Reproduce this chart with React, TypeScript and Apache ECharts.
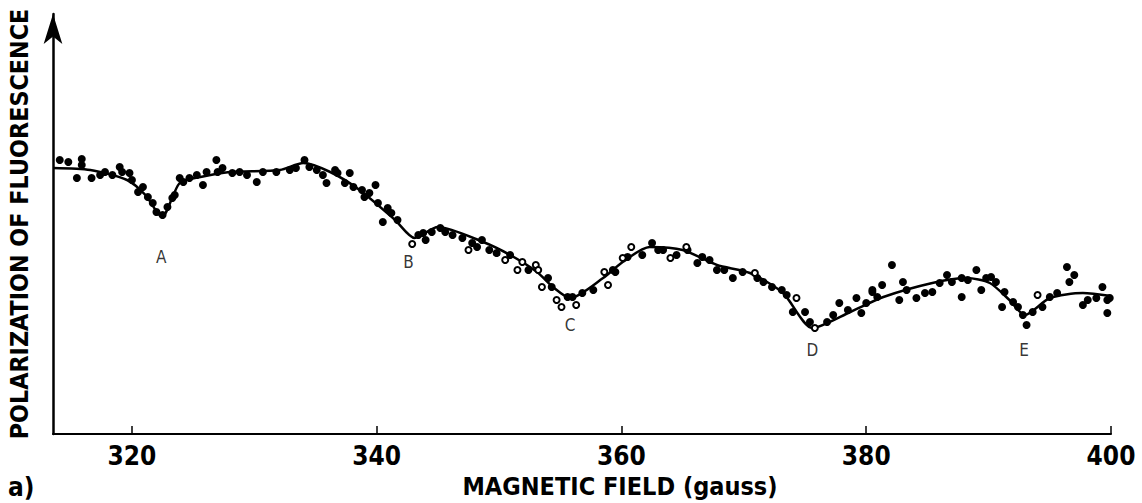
import React, { useEffect, useRef } from "react";
import * as echarts from "echarts";

// Magnetic field (gauss) and polarization (arbitrary units) along the smooth fitted curve
const curveField = [313.55, 316.6, 319.6, 321.1, 322.45, 323.9, 325.6, 328.0, 332.1, 334.0, 336.2, 338.6, 341.5, 343.1, 345.0, 348.7, 350.9, 353.1, 354.4, 355.8, 358.5, 360.1, 362.3, 365.0, 367.8, 370.5, 373.2, 375.6, 378.7, 381.4, 385.4, 388.2, 390.1, 391.7, 392.96, 395.0, 397.7, 400];
const curvePol = [266, 264, 254, 239, 217, 251, 257, 262, 264, 271, 262, 244, 214, 196, 207, 192, 179, 162, 147, 136, 156, 172, 187, 184, 169, 161, 141, 106, 122, 137, 151, 156, 151, 134, 119, 136, 141, 138];

// Measured points (filled dots)
const dotField = [314.1, 314.8, 315.9, 315.5, 315.9, 316.7, 317.4, 317.8, 318.4, 319.0, 319.2, 319.8, 320.0, 320.5, 320.9, 321.3, 321.7, 322.0, 322.5, 322.9, 323.3, 323.5, 323.9, 324.2, 324.7, 325.3, 325.8, 326.1, 326.9, 327.0, 327.4, 328.2, 328.8, 329.4, 330.2, 330.7, 331.8, 332.9, 333.4, 334.1, 334.5, 335.1, 335.9, 335.6,
  336.6, 336.8, 337.8, 337.4, 338.1, 338.8, 339.0, 339.4, 339.9, 340.1, 340.5, 340.9, 341.2, 341.7, 343.4, 343.8, 344.0, 344.5, 345.2, 345.6, 346.2, 347.0, 347.8, 348.2, 348.6, 349.2, 349.8, 350.9, 352.4, 354.0, 354.3, 355.6, 356.0, 356.8, 357.7, 359.3,
  359.5, 360.5, 361.7, 362.5, 363.0, 363.4, 364.5, 365.4, 366.2, 366.6, 367.2, 367.8, 368.4, 369.1, 369.9, 371.1, 371.6, 372.3, 373.1, 373.5, 374.0, 375.0, 375.4, 376.8, 377.3, 377.8, 378.5, 379.2, 379.6, 380.0, 380.5, 380.9,
  382.1, 380.5, 381.3, 382.7, 383.0, 383.3, 384.1, 384.8, 385.4, 386.0, 386.6, 387.0, 387.8, 387.8, 388.3, 389.0, 389.4, 389.8, 390.2, 390.6, 391.3, 391.1, 392.0, 392.4, 392.8, 393.1, 393.6, 394.4, 395.0, 395.6, 396.4, 397.0, 396.6, 397.7, 398.1, 398.8, 399.3, 399.7, 399.9, 399.7];
const dotPol = [274, 272, 275, 256, 269, 256, 259, 262, 259, 267, 262, 261, 254, 242, 247, 237, 231, 222, 219, 227, 236, 239, 256, 252, 256, 259, 249, 262, 274, 262, 266, 261, 262, 259, 252, 262, 262, 264, 266, 274, 267, 264, 251, 259,
  264, 261, 261, 251, 247, 244, 237, 241, 249, 231, 212, 226, 221, 214, 199, 201, 194, 202, 206, 202, 199, 196, 191, 187, 194, 184, 181, 179, 164, 156, 147, 137, 137, 141, 144, 164,
  162, 177, 179, 191, 184, 184, 179, 184, 171, 177, 174, 164, 164, 156, 162, 156, 152, 147, 144, 139, 122, 122, 112, 112, 119, 131, 124, 136, 121, 131, 144, 137,
  169, 142, 149, 134, 152, 144, 136, 141, 142, 151, 159, 152, 137, 156, 154, 164, 144, 156, 157, 152, 142, 127, 132, 127, 119, 109, 122, 127, 137, 141, 167, 159, 152, 129, 134, 136, 147, 134, 136, 121];

// Measured points (open circles)
const openField = [342.9, 347.5, 350.5, 351.5, 351.9, 353.0, 353.2, 353.5, 354.7, 355.1, 356.3, 358.6, 358.9, 360.1, 360.8, 364.0, 365.3, 370.9, 374.3, 375.8, 394.0];
const openPol = [190, 184, 174, 164, 172, 169, 164, 147, 134, 127, 129, 162, 149, 176, 187, 176, 187, 161, 136, 106, 139];

// Resonance labels
const dipNames = ["A", "B", "C", "D", "E"];
const dipField = [322.4, 342.6, 355.8, 375.6, 392.9];
const dipLabelPol = [177, 172, 109, 84, 84];

const tickValues = [320, 340, 360, 380, 400];

const boldFont = "'DejaVu Sans Condensed', 'Liberation Sans Narrow', 'DejaVu Sans', sans-serif";

export default function App() {
  const ref = useRef<HTMLDivElement>(null);
  useEffect(() => {
    if (!ref.current) return;
    const chart = echarts.init(ref.current, undefined, { renderer: "svg" });
    chart.setOption({
      animation: false,
      backgroundColor: "#ffffff",
      grid: { left: 53, right: 31, top: 14, bottom: 69, outerBoundsMode: "none", containLabel: false },
      xAxis: {
        type: "value",
        min: 313.55,
        max: 400,
        name: "MAGNETIC FIELD (gauss)",
        nameLocation: "middle",
        nameGap: 39,
        nameTextStyle: { fontFamily: boldFont, fontWeight: "bold", fontSize: 25, color: "#000", padding: [0, 0, 0, 76] },
        axisLine: { show: true, lineStyle: { color: "#000", width: 2 } },
        axisTick: { show: true, inside: true, length: 8, lineStyle: { color: "#000", width: 1.5 }, customValues: tickValues },
        axisLabel: { show: true, fontFamily: boldFont, fontWeight: "bold", fontSize: 26, color: "#000", margin: 9, customValues: tickValues },
        splitLine: { show: false },
      },
      yAxis: {
        type: "value",
        min: 0,
        max: 420,
        name: "POLARIZATION OF FLUORESCENCE",
        nameLocation: "middle",
        nameRotate: 90,
        nameGap: 21,
        nameTextStyle: { fontFamily: boldFont, fontWeight: "bold", fontSize: 24.8, color: "#000" },
        axisLine: { show: true, symbol: ["none", "arrow"], symbolSize: [14, 30], lineStyle: { color: "#000", width: 2.5 } },
        axisTick: { show: false },
        axisLabel: { show: false },
        splitLine: { show: false },
      },
      graphic: [
        { type: "text", left: 8, top: 474, style: { text: "a)", font: `bold 26px ${boldFont}`, fill: "#000" } },
      ],
      series: [
        {
          type: "line",
          data: curveField.map((f, i) => [f, curvePol[i]]),
          smooth: 0.25,
          showSymbol: false,
          lineStyle: { color: "#000", width: 2.5 },
          z: 3,
        },
        {
          type: "scatter",
          data: dotField.map((f, i) => [f, dotPol[i]]),
          symbol: "circle",
          symbolSize: 8,
          itemStyle: { color: "#000", opacity: 1 },
          z: 4,
        },
        {
          type: "scatter",
          data: openField.map((f, i) => [f, openPol[i]]),
          symbol: "circle",
          symbolSize: 6,
          itemStyle: { color: "#fff", borderColor: "#000", borderWidth: 2, opacity: 1 },
          z: 5,
        },
        {
          type: "scatter",
          data: dipField.map((f, i) => ({ name: dipNames[i], value: [f, dipLabelPol[i]] })),
          symbolSize: 0,
          label: { show: true, position: "inside", formatter: "{b}", fontFamily: "'DejaVu Sans Condensed', 'DejaVu Sans', sans-serif", fontSize: 17, color: "#000" },
          silent: true,
          z: 6,
        },
      ],
    });
    return () => chart.dispose();
  }, []);
  return <div ref={ref} style={{ position: "absolute", left: 0, top: 0, width: 1142, height: 503 }} />;
}
